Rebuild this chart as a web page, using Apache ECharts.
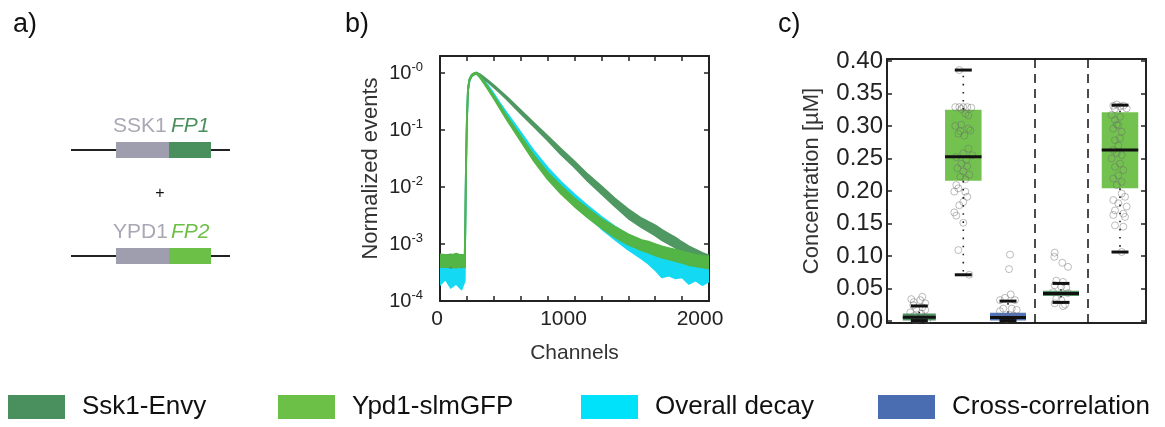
<!DOCTYPE html>
<html><head><meta charset="utf-8">
<script src="https://cdn.jsdelivr.net/npm/echarts@6.0.0/dist/echarts.min.js"></script>
<style>html,body{margin:0;padding:0;background:#fff}#c{width:1165px;height:427px}</style>
</head><body><div id="c"></div>
<script>
// ---------------- panel b: decay curves (noise envelopes) ----------------
const channels = [0,40,80,120,160,184,188,193,200,208,220,236,255,272,300,350,400,450,500,600,700,800,900,1000,1100,1200,1300,1400,1500,1550,1600,1650,1700,1750,1800,1850,1900,1950,2000];
const ssk1Lo = [3.98e-4,4.17e-4,3.80e-4,4.07e-4,3.89e-4,3.98e-4,1.78e-3,0.0178,0.145,0.501,0.759,0.891,0.955,0.977,0.881,0.716,0.562,0.442,0.339,0.195,0.1135,0.0661,0.0372,0.0221,0.0126,0.00759,0.00457,0.00282,0.00195,0.00166,0.00141,0.00117,0.00100,8.6e-4,7.2e-4,6.0e-4,5.2e-4,4.6e-4,4.1e-4];
const ssk1Hi = [6.46e-4,6.31e-4,6.61e-4,6.17e-4,6.46e-4,6.31e-4,2.24e-3,0.0224,0.158,0.537,0.794,0.933,1.0,1.023,0.944,0.767,0.617,0.484,0.380,0.224,0.132,0.0794,0.0468,0.0282,0.0166,0.01035,0.00631,0.00407,0.00282,0.00245,0.00214,0.00178,0.00152,0.00130,0.00108,9.1e-4,8.0e-4,7.0e-4,6.3e-4];
const ypd1Lo = [4.07e-4,3.89e-4,4.17e-4,3.80e-4,4.07e-4,3.89e-4,1.78e-3,0.0178,0.145,0.501,0.759,0.891,0.955,0.977,0.822,0.550,0.359,0.229,0.148,0.0646,0.0282,0.0138,0.00759,0.00457,0.00288,0.00191,0.00132,9.77e-4,7.76e-4,7.08e-4,6.31e-4,5.75e-4,5.37e-4,5.01e-4,4.68e-4,4.27e-4,4.07e-4,3.89e-4,3.72e-4];
const ypd1Hi = [6.61e-4,6.46e-4,6.31e-4,6.76e-4,6.31e-4,6.46e-4,2.24e-3,0.0224,0.158,0.537,0.794,0.933,1.0,1.023,0.881,0.603,0.403,0.263,0.170,0.0776,0.0355,0.0182,0.0105,0.00631,0.00417,0.00275,0.00200,0.00148,0.00117,0.00110,0.00100,9.12e-4,8.51e-4,7.94e-4,7.41e-4,6.92e-4,6.46e-4,6.17e-4,6.03e-4];
const decayLo = [1.91e-4,2.40e-4,1.70e-4,2.00e-4,1.60e-4,2.24e-4,1.70e-3,0.0170,0.140,0.49,0.75,0.885,0.95,0.97,0.832,0.569,0.380,0.245,0.158,0.0708,0.0316,0.0155,0.00851,0.0049,0.00302,0.00186,0.0012,7.94e-4,5.5e-4,4.5e-4,3.5e-4,2.6e-4,2.8e-4,2.5e-4,2.6e-4,2.0e-4,2.3e-4,1.9e-4,2.2e-4];
const decayHi = [5.01e-4,4.79e-4,5.25e-4,4.68e-4,5.01e-4,4.90e-4,2.2e-3,0.022,0.156,0.53,0.79,0.93,0.995,1.02,0.912,0.638,0.437,0.288,0.195,0.0912,0.0427,0.0219,0.0123,0.00741,0.00468,0.00302,0.00204,0.00145,0.00107,9.77e-4,8.71e-4,8.13e-4,7.59e-4,7.08e-4,6.76e-4,6.31e-4,6.03e-4,5.89e-4,5.62e-4];
const decadeTicks = [1e-4,1e-3,1e-2,1e-1,1];
const decadeExp = ['-4','-3','-2','-1','-0'];

// ---------------- panel c: concentrations ----------------
const boxMin = [0.0005,0.071,0.0005,0.0285,0.106];
const boxQ1  = [0.0005,0.2155,0.0005,0.0385,0.204];
const boxMed = [0.0055,0.2525,0.0054,0.0423,0.263];
const boxQ3  = [0.0115,0.325,0.0125,0.0463,0.321];
const boxMax = [0.023,0.386,0.0305,0.0577,0.332];
const concTicks = [0,0.05,0.10,0.15,0.20,0.25,0.30,0.35,0.40];
// points: [jitter offset, concentration]
const pts1 = [[-0.8,0.0335],[0.3,0.037],[-0.55,0.029],[0.1,0.032],[0.6,0.027],[-0.6,0.024],[0.3,0.021],[-0.3,0.019],[0.6,0.017],[-0.9,0.013],[0.2,0.011],[-0.5,0.008],[0.5,0.006],[0,0.003],[-0.4,0.0015],[0.8,0.002]];
const pts2 = [[-0.8,0.329],[-0.4,0.329],[0,0.329],[0.4,0.329],[0.8,0.328],[-0.2,0.326],[0.2,0.319],[0.5,0.316],[-0.8,0.300],[-0.2,0.302],[0.5,0.296],[-0.5,0.288],[0.1,0.285],[0.7,0.293],[-0.3,0.292],[0.5,0.265],[0.0,0.258],[-0.7,0.252],[0.3,0.248],[0.9,0.255],[-0.2,0.242],[0.4,0.238],[-0.6,0.235],[0.0,0.230],[0.6,0.225],[-0.3,0.222],[0.2,0.218],[-0.7,0.209],[-0.5,0.204],[-0.9,0.199],[0.2,0.199],[0.4,0.191],[0.0,0.183],[-0.4,0.178],[-0.9,0.167],[-0.7,0.162],[0.0,0.151],[-0.5,0.109],[-0.4,0.386],[0.6,0.071]];
const pts3 = [[0.2,0.102],[0.1,0.0797],[0.27,0.0408],[-0.3,0.0355],[-0.8,0.032],[0.7,0.032],[-0.47,0.019],[0.37,0.019],[0.87,0.017],[-0.8,0.015],[0.53,0.008],[-0.13,0.003]];
const pts4 = [[-0.63,0.105],[-0.67,0.0986],[0.13,0.0894],[0.7,0.0832],[-0.47,0.062],[0.2,0.060],[-0.63,0.055],[0.03,0.053],[0.53,0.051],[-0.8,0.044],[0.7,0.043],[-0.47,0.034],[0.03,0.032],[0.2,0.0228],[-0.63,0.027],[0.4,0.025]];
const pts5 = [[-0.67,0.331],[-0.33,0.333],[0,0.330],[0.33,0.331],[0.67,0.327],[-0.5,0.326],[-0.83,0.317],[0,0.314],[-0.5,0.309],[-0.17,0.301],[-0.67,0.296],[0.17,0.291],[-0.33,0.302],[-0.5,0.278],[0,0.281],[-0.17,0.270],[-0.67,0.263],[-0.33,0.258],[0.17,0.255],[-0.83,0.250],[0,0.242],[-0.5,0.237],[0.33,0.232],[-0.17,0.224],[-0.67,0.219],[0.17,0.214],[-0.33,0.209],[0.17,0.196],[0.5,0.191],[-0.67,0.186],[-0.17,0.181],[0.67,0.176],[-0.5,0.170],[0.33,0.165],[-0.67,0.163],[0.5,0.160],[-0.5,0.147],[0.33,0.145],[0.17,0.106]];
const groupPts = [pts1,pts2,pts3,pts4,pts5];

// ---------------- layout / style constants ----------------
const groupPos = [3.23,7.63,12.1,17.4,23.3];
const boxWidth = [3.3,3.65,3.6,3.6,3.65];
const separators = [14.73,20.03];
const capPx = 17;
const C = {dark:'#4a8f5e', light:'#6cbf47', cyan:'#00e2fa', blue:'#4a6db2',
           curveDark:'#4f9862', curveLight:'#52b546', curveCyan:'#14d9f2'};
const groupColors = [C.dark,C.light,C.blue,C.dark,C.light];
const FONT = 'Liberation Sans, Arial, sans-serif';

const chart = echarts.init(document.getElementById('c'), null, {renderer:'canvas'});

function band(name, lo, hi, color, z){
  return {
    type:'custom', name, xAxisIndex:0, yAxisIndex:0, z, clip:true, silent:true,
    itemStyle:{color},
    data:[[channels[0], hi[0]]],
    renderItem(params, api){
      const pts = [];
      for (let i=0;i<channels.length;i++) pts.push(api.coord([channels[i], hi[i]]));
      for (let i=channels.length-1;i>=0;i--) pts.push(api.coord([channels[i], lo[i]]));
      return {type:'polygon', shape:{points:pts},
        style:{fill:color, stroke:color, lineWidth:1.8, lineJoin:'round'}};
    }
  };
}

const scatterData = [];
groupPts.forEach((arr,g)=>arr.forEach(p=>scatterData.push([groupPos[g]+p[0], p[1]])));

const axisLineStyle = {show:true, onZero:false, lineStyle:{color:'#222', width:2}};
const tickIn = {show:true, inside:true, length:5, lineStyle:{color:'#222', width:1.5}};

const option = {
  animation:false,
  textStyle:{fontFamily:FONT},
  grid:[
    {left:440, top:56, width:269, height:245, containLabel:false},
    {left:887, top:59, width:259, height:264, containLabel:false}
  ],
  xAxis:[
    {gridIndex:0, type:'value', min:0, max:2000, interval:200, position:'bottom',
     axisLine:axisLineStyle, axisTick:tickIn, splitLine:{show:false},
     axisLabel:{margin:8, color:'#222', fontSize:21, showMinLabel:true, showMaxLabel:true,
       formatter:v=>{ if(v===0) return '{a|0}'; if(v===1000) return '{m|1000}'; if(v===2000) return '{e|2000}'; return ''; },
       rich:{a:{fontSize:21,color:'#222',padding:[0,6,0,0]}, m:{fontSize:21,color:'#222',padding:[0,22,0,0]}, e:{fontSize:21,color:'#222',padding:[0,18,0,0]}}},
     name:'Channels', nameLocation:'middle', nameGap:42, nameTextStyle:{fontSize:21, color:'#333'}},
    {gridIndex:0, type:'value', min:0, max:2000, interval:200, position:'top',
     axisLine:axisLineStyle, axisTick:tickIn, axisLabel:{show:false}, splitLine:{show:false}},
    {gridIndex:1, type:'value', min:0, max:25.9, position:'bottom',
     axisLine:axisLineStyle, axisTick:{show:false}, axisLabel:{show:false}, splitLine:{show:false}},
    {gridIndex:1, type:'value', min:0, max:25.9, position:'top',
     axisLine:axisLineStyle, axisTick:{show:false}, axisLabel:{show:false}, splitLine:{show:false}}
  ],
  yAxis:[
    {gridIndex:0, type:'log', min:1e-4, max:2, position:'left',
     axisLine:axisLineStyle, axisTick:Object.assign({customValues:decadeTicks}, tickIn), splitLine:{show:false},
     axisLabel:{customValues:decadeTicks, margin:17,
       formatter:v=>{ const i = decadeTicks.findIndex(t=>Math.abs(Math.log10(t/v))<1e-6); return '{b|10}{s|'+decadeExp[i]+'}'; },
       rich:{b:{fontSize:20,color:'#222'}, s:{fontSize:13,color:'#222',padding:[0,0,11,0]}}},
     name:'Normalized events', nameLocation:'middle', nameGap:58, nameTextStyle:{fontSize:22, color:'#333', padding:[0,0,0,20]}},
    {gridIndex:0, type:'log', min:1e-4, max:2, position:'right',
     axisLine:axisLineStyle, axisTick:Object.assign({customValues:decadeTicks}, tickIn), axisLabel:{show:false}, splitLine:{show:false}},
    {gridIndex:1, type:'value', min:-0.0032, max:0.403, position:'left',
     axisLine:axisLineStyle, axisTick:Object.assign({customValues:concTicks}, tickIn), splitLine:{show:false},
     axisLabel:{customValues:concTicks, margin:4, fontSize:24, color:'#222', formatter:v=>v.toFixed(2)},
     name:'Concentration [µM]', nameLocation:'middle', nameGap:64, nameTextStyle:{fontSize:22, color:'#333', padding:[0,0,0,20]}},
    {gridIndex:1, type:'value', min:-0.0032, max:0.403, position:'right',
     axisLine:axisLineStyle, axisTick:Object.assign({customValues:concTicks}, tickIn), axisLabel:{show:false}, splitLine:{show:false}}
  ],
  legend:[
    {data:[{name:'Ssk1-Envy', itemStyle:{color:C.dark}}], left:8, top:394},
    {data:[{name:'Ypd1-slmGFP', itemStyle:{color:C.light}}], left:278, top:394},
    {data:[{name:'Overall decay', itemStyle:{color:C.cyan}}], left:581, top:394},
    {data:[{name:'Cross-correlation', itemStyle:{color:C.blue}}], left:878, top:394}
  ].map(l=>Object.assign(l,{icon:'rect', itemWidth:57, itemHeight:24, padding:0, selectedMode:false,
      textStyle:{fontSize:26, color:'#111', padding:[0,0,0,12]}})),
  graphic:[
    {type:'text', left:13, top:11, style:{text:'a)', font:'27px '+FONT, fill:'#111'}},
    {type:'text', left:345, top:11, style:{text:'b)', font:'27px '+FONT, fill:'#111'}},
    {type:'text', left:778, top:11, style:{text:'c)', font:'27px '+FONT, fill:'#111'}},
    {type:'line', shape:{x1:71,y1:150,x2:230,y2:150}, style:{stroke:'#222', lineWidth:2}},
    {type:'rect', shape:{x:116,y:142,width:53,height:16}, style:{fill:'#9e9eae'}},
    {type:'rect', shape:{x:169,y:142,width:42,height:16}, style:{fill:C.dark}},
    {type:'text', x:113, y:126, style:{text:'SSK1', font:'21px '+FONT, fill:'#a9a9b6', verticalAlign:'middle'}},
    {type:'text', x:171, y:126, style:{text:'FP1', font:'italic 21px '+FONT, fill:C.dark, verticalAlign:'middle'}},
    {type:'text', x:160, y:194, style:{text:'+', font:'16px '+FONT, fill:'#111', align:'center', verticalAlign:'middle'}},
    {type:'line', shape:{x1:71,y1:256,x2:230,y2:256}, style:{stroke:'#222', lineWidth:2}},
    {type:'rect', shape:{x:116,y:248,width:53,height:16}, style:{fill:'#9e9eae'}},
    {type:'rect', shape:{x:169,y:248,width:42,height:16}, style:{fill:C.light}},
    {type:'text', x:113, y:232, style:{text:'YPD1', font:'21px '+FONT, fill:'#a9a9b6', verticalAlign:'middle'}},
    {type:'text', x:171, y:232, style:{text:'FP2', font:'italic 21px '+FONT, fill:C.light, verticalAlign:'middle'}}
  ],
  series:[
    band('Overall decay', decayLo, decayHi, C.curveCyan, 2),
    band('Ssk1-Envy', ssk1Lo, ssk1Hi, C.curveDark, 3),
    band('Ypd1-slmGFP', ypd1Lo, ypd1Hi, C.curveLight, 4),
    { type:'custom', name:'Cross-correlation', xAxisIndex:2, yAxisIndex:2, z:2, silent:true,
      itemStyle:{color:C.blue},
      data: groupPos.map((x,i)=>[x, boxQ1[i], boxQ3[i], i]),
      renderItem(params, api){
        const x=api.value(0), q1=api.value(1), q3=api.value(2), i=api.value(3);
        const w = api.size([boxWidth[i],0])[0];
        const a = api.coord([x,q3]), b = api.coord([x,q1]);
        return {type:'rect', shape:{x:a[0]-w/2, y:a[1], width:w, height:Math.max(b[1]-a[1],1)},
          style:{fill:groupColors[i], opacity:0.95}};
      }
    },
    { type:'scatter', xAxisIndex:2, yAxisIndex:2, z:3, silent:true, symbol:'circle', symbolSize:7,
      itemStyle:{color:'rgba(0,0,0,0)', borderColor:'rgba(105,105,105,0.55)', borderWidth:1},
      data: scatterData },
    { type:'custom', xAxisIndex:2, yAxisIndex:2, z:4, silent:true,
      data: groupPos.map((x,i)=>[x, boxMin[i], boxQ1[i], boxMed[i], boxQ3[i], boxMax[i], i]),
      renderItem(params, api){
        const x=api.value(0), lo=api.value(1), q1=api.value(2), med=api.value(3), q3=api.value(4), hi=api.value(5), i=api.value(6);
        const w = api.size([boxWidth[i],0])[0];
        const pLo=api.coord([x,lo]), pQ1=api.coord([x,q1]), pMed=api.coord([x,med]), pQ3=api.coord([x,q3]), pHi=api.coord([x,hi]);
        const dot = {stroke:'#222', lineWidth:1.6, lineDash:[1.6,6.5]};
        const thick = {stroke:'#111', lineWidth:3};
        return {type:'group', children:[
          {type:'line', shape:{x1:pQ3[0],y1:pQ3[1],x2:pHi[0],y2:pHi[1]}, style:dot},
          {type:'line', shape:{x1:pQ1[0],y1:pQ1[1],x2:pLo[0],y2:pLo[1]}, style:dot},
          {type:'line', shape:{x1:pMed[0]-w/2,y1:pMed[1],x2:pMed[0]+w/2,y2:pMed[1]}, style:thick},
          {type:'line', shape:{x1:pHi[0]-capPx/2,y1:pHi[1],x2:pHi[0]+capPx/2,y2:pHi[1]}, style:thick},
          {type:'line', shape:{x1:pLo[0]-capPx/2,y1:pLo[1],x2:pLo[0]+capPx/2,y2:pLo[1]}, style:thick}
        ]};
      },
      markLine:{symbol:'none', silent:true, label:{show:false},
        lineStyle:{color:'#111', type:[9,6], width:1.5},
        data: separators.map(s=>({xAxis:s}))}
    }
  ]
};
chart.setOption(option);
</script>
</body></html>
